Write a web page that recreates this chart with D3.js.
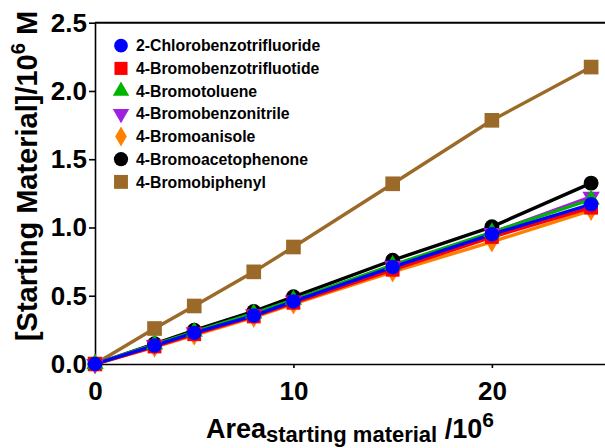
<!DOCTYPE html>
<html><head><meta charset="utf-8">
<script src="https://cdn.jsdelivr.net/npm/d3@7"></script>
<style>
body{margin:0;background:#fff;}
svg{display:block;font-family:"Liberation Sans",Arial,sans-serif;font-weight:bold;}
</style></head>
<body><svg id="c" width="605" height="448"></svg>
<script>
const xValues = [0, 3, 5, 8, 10, 15, 20, 25];
const seriesNames = ["2-Chlorobenzotrifluoride","4-Bromobenzotrifluotide","4-Bromotoluene","4-Bromobenzonitrile","4-Bromoanisole","4-Bromoacetophenone","4-Bromobiphenyl"];
const chloroBTF   = [0, 0.135, 0.228, 0.355, 0.458, 0.71, 0.95, 1.17];
const bromoBTF    = [0, 0.128, 0.218, 0.348, 0.448, 0.69, 0.93, 1.145];
const bromoTol    = [0, 0.142, 0.236, 0.37, 0.47, 0.725, 0.965, 1.205];
const bromoBN     = [0, 0.14, 0.232, 0.365, 0.466, 0.72, 0.96, 1.225];
const bromoAnis   = [0, 0.124, 0.212, 0.342, 0.44, 0.675, 0.895, 1.125];
const bromoAceto  = [0, 0.148, 0.247, 0.385, 0.492, 0.76, 1.005, 1.325];
const bromoBiph   = [0, 0.26, 0.425, 0.675, 0.857, 1.32, 1.785, 2.175];
const yTicks = [0, 0.5, 1.0, 1.5, 2.0, 2.5];
const xTicks = [0, 10, 20];

const colors = ["#0000ff","#ff0000","#00b400","#a020e0","#ff8000","#000000","#9c6a28"];
const values = [chloroBTF, bromoBTF, bromoTol, bromoBN, bromoAnis, bromoAceto, bromoBiph];

const svg = d3.select("#c");
const x = d3.scaleLinear().domain([0, 25.7]).range([95, 605]);
const y = d3.scaleLinear().domain([0, 2.5]).range([364, 22.7]);

// top frame
svg.append("line").attr("x1",95).attr("x2",605).attr("y1",y(2.5)).attr("y2",y(2.5))
  .attr("stroke","#000").attr("stroke-width",2);

const ax = svg.append("g").attr("transform","translate(0,"+y(0)+")")
  .call(d3.axisBottom(x).tickValues(xTicks).tickFormat(d3.format("d")).tickSize(4).tickPadding(14).tickSizeOuter(0));
const ay = svg.append("g").attr("transform","translate("+x(0)+",0)")
  .call(d3.axisLeft(y).tickValues(yTicks).tickFormat(d3.format(".1f")).tickSize(6).tickPadding(2).tickSizeOuter(0));
[ax, ay].forEach(g=>{
  g.selectAll("path").attr("stroke","#000").attr("stroke-width",1.6);
  g.selectAll("line").attr("stroke","#000").attr("stroke-width",1.6);
  g.selectAll("text").attr("font-size",26).attr("font-weight","bold").attr("fill","#000")
    .attr("font-family","'Liberation Sans',Arial,sans-serif");
});

function symFor(i, big){
  const s = big ? 1 : 0.9;
  switch(i){
    case 0: return {type:d3.symbolCircle, size:165*s, rot:0};
    case 1: return {type:d3.symbolSquare, size:190*s, rot:0};
    case 2: return {type:d3.symbolTriangle, size:130*s, rot:0};
    case 3: return {type:d3.symbolTriangle, size:130*s, rot:180};
    case 4: return {type:d3.symbolDiamond, size:130*s, rot:0};
    case 5: return {type:d3.symbolCircle, size:175*s, rot:0};
    case 6: return {type:d3.symbolSquare, size:215*s, rot:0};
  }
}

const line = d3.line().x((d,i)=>x(xValues[i])).y(d=>y(d));
const order = [6,5,4,3,1,2,0];
order.forEach(i=>{
  svg.append("path").datum(values[i]).attr("d",line).attr("fill","none")
    .attr("stroke",colors[i]).attr("stroke-width",3.4);
});
order.forEach(i=>{
  const s = symFor(i,true);
  svg.append("g").selectAll("path").data(values[i]).join("path")
    .attr("transform",(d,j)=>"translate("+x(xValues[j])+","+y(d)+") rotate("+s.rot+")")
    .attr("d",d3.symbol().type(s.type).size(s.size)).attr("fill",colors[i]);
});

// legend
const leg = svg.append("g");
seriesNames.forEach((n,i)=>{
  const yy = 45.7 + i*22.7;
  const s = symFor(i,false);
  leg.append("path").attr("transform","translate(121,"+yy+") rotate("+s.rot+")")
    .attr("d",d3.symbol().type(s.type).size(s.size)).attr("fill",colors[i]);
  leg.append("text").attr("x",136).attr("y",yy+5.6).attr("font-size",15.8).attr("font-weight","bold").text(n);
});

// y title
const yt = svg.append("text").attr("transform","translate(37,176) rotate(-90)")
  .attr("text-anchor","middle").attr("font-size",29).attr("font-weight","bold");
yt.append("tspan").text("[Starting Material]/10");
yt.append("tspan").attr("dy",-12).attr("font-size",20).text("6");
yt.append("tspan").attr("dy",12).text("  M");

// x title
const xt = svg.append("text").attr("x",206).attr("y",438).attr("font-size",27).attr("font-weight","bold");
xt.append("tspan").text("Area");
xt.append("tspan").attr("dy",4).attr("font-size",22).text("starting material");
xt.append("tspan").attr("dy",-4).text(" /10");
xt.append("tspan").attr("dy",-11).attr("font-size",21).text("6");
</script></body></html>
